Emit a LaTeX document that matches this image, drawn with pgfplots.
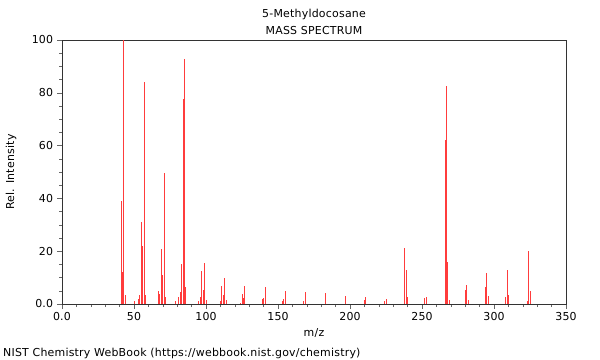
\documentclass[border=0pt]{standalone}
\usepackage{fontspec}
\setmainfont[LetterSpace=2]{DejaVu Sans}
\usepackage{pgfplots}
\pgfplotsset{compat=1.18}
\definecolor{peak}{RGB}{255,60,60}
\begin{document}
\fontsize{11}{13}\selectfont
\begin{tikzpicture}
\path[use as bounding box] (0,0) rectangle (600bp,360bp);
\begin{axis}[at={(62bp,56bp)}, anchor=south west, scale only axis,
  width=504bp, height=264bp,
  xmin=0, xmax=350, ymin=0, ymax=100,
  xtick={0,50,...,350}, xticklabels={0.0,50,100,150,200,250,300,350},
  ytick={0,20,...,100}, yticklabels={0.0,20,40,60,80,100},
  minor x tick num=4, minor y tick num=3,
  tick align=outside, xtick pos=bottom, ytick pos=left,
  major tick length=5bp, minor tick length=3bp,
  axis line style={black!80}, every tick/.style={black!60},
  tick label style={font=\fontsize{11}{13}\selectfont},
  /pgf/number format/assume math mode=true,
  clip=false]
\addplot[ycomb, peak, line width=0.9bp, mark=none] coordinates {
(41,39) (42,12) (43,100) (44,3.4) (50,1) (53,2) (54,3.4) (55,31) (56,22) (57,84) (58,3.4)
(67,5) (68,3.8) (69,21) (70,11) (71,49.5) (72,2.8) (79,1) (81,2.8) (82,4.7) (83,15) (84,77.8)
(85,92.8) (86,6.6) (95,1.3) (96,2.8) (97,12.6) (98,5.3) (99,15.4) (100,1.5) (110,1) (111,6.8)
(112,3.4) (113,9.7) (114,1.5) (124,0.5) (125,3.7) (126,2.4) (127,7) (139,1.9) (140,2.4) (141,6.3)
(153,1.1) (154,1.9) (155,5) (168,1) (169,4.5) (183,4) (197,3) (210,1.5) (211,2.5) (224,1) (225,2)
(238,21.2) (239,12.9) (240,2.5) (252,2.4) (253,2.8) (266,62) (267,82.6) (268,15.8) (269,1.5)
(280,5.3) (281,7.2) (282,1.5) (294,6.6) (295,11.6) (296,3) (308,2.8) (309,12.9) (310,3.4)
(323,1.3) (324,20.2) (325,5)
};
\end{axis}
\node at (314bp,346bp) {5-Methyldocosane};
\node at (314bp,329bp) {MASS SPECTRUM};
\node at (314bp,27bp) {m/z};
\node[anchor=west, inner sep=0pt] at (3bp,7bp) {NIST Chemistry WebBook (https://webbook.nist.gov/chemistry)};
\node[rotate=90] at (11bp,188bp) {Rel. Intensity};
\end{tikzpicture}
\end{document}
